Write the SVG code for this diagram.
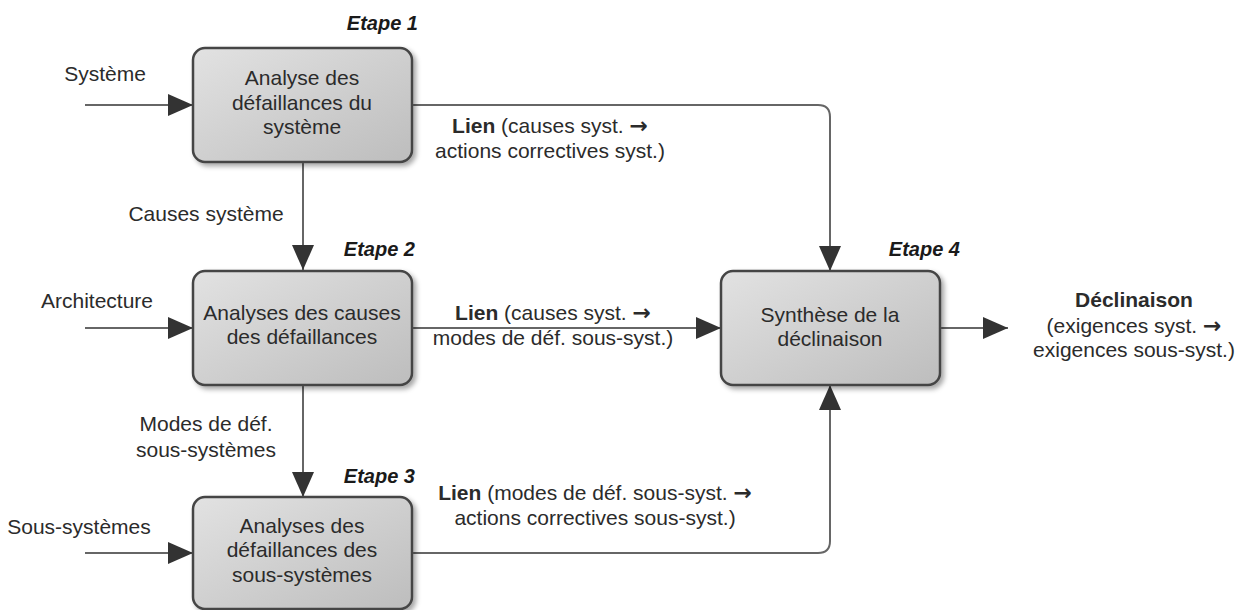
<svg xmlns="http://www.w3.org/2000/svg" width="1251" height="610" viewBox="0 0 1251 610">
<style>
text{font-family:"Liberation Sans",Arial,sans-serif;font-size:21px;fill:#2b2b2b}
.c{text-anchor:middle}
.et{font-weight:bold;font-style:italic;font-size:20px;fill:#1a1a1a}
.b{font-weight:bold}
.ar{font-family:"DejaVu Sans",sans-serif;font-size:22px;font-weight:bold}
.box{fill:url(#g);stroke:#444;stroke-width:2.5;filter:url(#sh)}
.ln{fill:none;stroke:#666;stroke-width:2;marker-end:url(#ah)}
</style>
<defs>
<linearGradient id="g" x1="0" y1="0" x2="1" y2="1">
<stop offset="0" stop-color="#e2e2e2"/>
<stop offset="1" stop-color="#bdbdbd"/>
</linearGradient>
<filter id="sh" x="-10%" y="-10%" width="125%" height="130%">
<feDropShadow dx="3" dy="3" stdDeviation="2.5" flood-color="#000" flood-opacity="0.35"/>
</filter>
<marker id="ah" viewBox="0 0 25 22" refX="25" refY="11" markerWidth="25" markerHeight="22" markerUnits="userSpaceOnUse" orient="auto">
<path d="M0,0 L25,11 L0,22 Z" fill="#333"/>
</marker>
</defs>
<rect width="1251" height="610" fill="#fff"/>
<g id="connectors">
<path class="ln" d="M85,105 H193"/>
<path class="ln" d="M85,328 H193"/>
<path class="ln" d="M85,553 H193"/>
<path class="ln" d="M303,162 V270"/>
<path class="ln" d="M303,385 V497"/>
<path class="ln" d="M412,105 H818 Q830,105 830,117 V271"/>
<path class="ln" d="M412,328 H721"/>
<path class="ln" d="M412,553 H818 Q830,553 830,541 V385"/>
<path class="ln" d="M940,328 H1008"/>
</g>
<g id="labels">
<text x="105" y="81" class="c">Système</text>
<text x="97" y="308" class="c">Architecture</text>
<text x="79" y="534" class="c">Sous-systèmes</text>
<text x="206" y="221" class="c">Causes système</text>
<text x="206" y="431" class="c">Modes de déf.</text>
<text x="206" y="457" class="c">sous-systèmes</text>
<text x="550" y="133" class="c"><tspan class="b">Lien</tspan> (causes syst. <tspan class="ar">→</tspan></text>
<text x="550" y="158" class="c">actions correctives syst.)</text>
<text x="553" y="320" class="c"><tspan class="b">Lien</tspan> (causes syst. <tspan class="ar">→</tspan></text>
<text x="553" y="345" class="c">modes de déf. sous-syst.)</text>
<text x="595" y="500" class="c"><tspan class="b">Lien</tspan> (modes de déf. sous-syst. <tspan class="ar">→</tspan></text>
<text x="595" y="525" class="c">actions correctives sous-syst.)</text>
<text x="1134" y="307" class="c b">Déclinaison</text>
<text x="1134" y="333" class="c">(exigences syst. <tspan class="ar">→</tspan></text>
<text x="1134" y="357" class="c">exigences sous-syst.)</text>
</g>
<g id="etape1">
<text x="418" y="30" class="et" text-anchor="end">Etape 1</text>
<rect class="box" x="193" y="48" width="219" height="114" rx="12"/>
<text x="302" y="85" class="c">Analyse des</text>
<text x="302" y="110" class="c">défaillances du</text>
<text x="302" y="134" class="c">système</text>
</g>
<g id="etape2">
<text x="415" y="256" class="et" text-anchor="end">Etape 2</text>
<rect class="box" x="193" y="271" width="219" height="114" rx="12"/>
<text x="302" y="320" class="c">Analyses des causes</text>
<text x="302" y="344" class="c">des défaillances</text>
</g>
<g id="etape3">
<text x="415" y="483" class="et" text-anchor="end">Etape 3</text>
<rect class="box" x="193" y="497" width="219" height="112" rx="12"/>
<text x="302" y="533" class="c">Analyses des</text>
<text x="302" y="557" class="c">défaillances des</text>
<text x="302" y="582" class="c">sous-systèmes</text>
</g>
<g id="etape4">
<text x="960" y="256" class="et" text-anchor="end">Etape 4</text>
<rect class="box" x="721" y="271" width="219" height="114" rx="12"/>
<text x="830" y="322" class="c">Synthèse de la</text>
<text x="830" y="346" class="c">déclinaison</text>
</g>
</svg>
